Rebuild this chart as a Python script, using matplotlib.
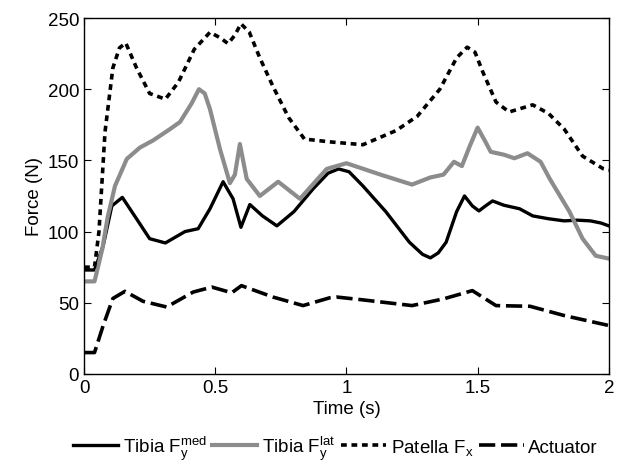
import matplotlib

matplotlib.use("Agg")
import matplotlib.pyplot as plt

plt.rcParams["font.family"] = ["Liberation Sans", "DejaVu Sans"]
plt.rcParams["mathtext.fontset"] = "custom"
plt.rcParams["mathtext.rm"] = "Liberation Sans"
plt.rcParams["mathtext.it"] = "Liberation Sans:italic"

# Tibia F_y^med (black solid)
med_t = [0, 0.04, 0.073, 0.106, 0.146, 0.2, 0.25, 0.31, 0.385, 0.435, 0.48, 0.53,
         0.568, 0.598, 0.632, 0.68, 0.735, 0.8, 0.873, 0.93, 0.97, 1.01, 1.063,
         1.15, 1.24, 1.29, 1.32, 1.35, 1.38, 1.42, 1.45, 1.48, 1.505, 1.53, 1.557,
         1.6, 1.66, 1.71, 1.77, 1.83, 1.88, 1.93, 1.97, 2.0]
med_f = [73, 73, 90, 118, 124, 109, 95, 92, 100, 102, 116, 135,
         123, 103, 119, 111, 104, 114, 130, 141, 144, 142, 132,
         114, 92.5, 84, 81.5, 85, 92.5, 114, 125, 118, 114.5, 118, 121.5,
         118.5, 116, 111, 109, 107.5, 108, 107.5, 106, 104]

# Tibia F_y^lat (grey solid)
lat_t = [0, 0.04, 0.07, 0.09, 0.118, 0.163, 0.213, 0.263, 0.328, 0.366, 0.41, 0.438,
         0.46, 0.48, 0.518, 0.556, 0.575, 0.594, 0.62, 0.67, 0.74, 0.823, 0.925,
         1.0, 1.13, 1.25, 1.32, 1.37, 1.41, 1.44, 1.47, 1.50, 1.53, 1.55, 1.60,
         1.64, 1.69, 1.74, 1.775, 1.85, 1.90, 1.95, 2.0]
lat_f = [65, 65, 88, 110, 132, 151, 159, 164, 172, 177, 190, 200,
         197, 186, 158, 134, 140, 161.5, 137, 125, 135, 123, 144,
         148, 140, 133, 138, 140, 149, 146, 160, 173, 163, 156, 154,
         151.5, 155, 149, 137, 114, 95, 83, 81]

# Patella F_x (black dotted)
pat_t = [0, 0.04, 0.057, 0.08, 0.11, 0.135, 0.159, 0.2, 0.25, 0.31, 0.36, 0.42,
         0.48, 0.52, 0.549, 0.575, 0.598, 0.63, 0.67, 0.72, 0.78, 0.84, 0.937,
         1.063, 1.19, 1.27, 1.356, 1.42, 1.46, 1.49, 1.52, 1.57, 1.62, 1.71,
         1.77, 1.83, 1.90, 1.98, 2.0]
pat_f = [75, 75, 100, 170, 215, 229, 232.5, 215, 197, 193, 205, 228,
         240, 236, 232, 238, 246, 240, 222, 202, 180, 165, 163,
         161, 171, 181, 200, 222, 229.5, 226, 212, 191, 184, 189,
         183, 172, 153, 144, 143]

# Actuator (black dashed)
act_t = [0, 0.04, 0.073, 0.11, 0.156, 0.225, 0.315, 0.416, 0.487, 0.563, 0.60,
         0.72, 0.835, 0.937, 0.963, 1.063, 1.25, 1.37, 1.48, 1.57, 1.70, 1.83, 2.0]
act_f = [15, 15, 34, 53, 58, 51, 47, 57.5, 61, 57, 62,
         54, 48, 53.5, 54, 52, 48, 52.7, 58.5, 48, 47.5, 41, 34]

fig = plt.figure(figsize=(6.27, 4.64), dpi=100)
ax = fig.add_axes([0.134, 0.192, 0.837, 0.767])

ax.plot(med_t, med_f, color="black", lw=2.4, solid_joinstyle="round",
        label=r"Tibia F$_{\mathrm{y}}^{\mathrm{med}}$")
ax.plot(lat_t, lat_f, color="#8c8c8c", lw=3.0, solid_joinstyle="round",
        label=r"Tibia F$_{\mathrm{y}}^{\mathrm{lat}}$")
ax.plot(pat_t, pat_f, color="black", lw=2.6, dashes=(1.6, 1.3),
        label=r"Patella F$_{\mathrm{x}}$")
ax.plot(act_t, act_f, color="black", lw=2.6, dashes=(4.5, 1.6),
        label="Actuator")

ax.set_xlim(0, 2)
ax.set_ylim(0, 250)
ax.set_xticks([0, 0.5, 1, 1.5, 2], ["0", "0.5", "1", "1.5", "2"])
ax.set_yticks([0, 50, 100, 150, 200, 250])
ax.tick_params(direction="in", labelsize=13.5, length=5, top=True, right=True,
               labeltop=False, labelright=False)
for s in ax.spines.values():
    s.set_linewidth(1.0)
ax.set_xlabel("Time (s)", fontsize=13.5, labelpad=3)
ax.set_ylabel("Force (N)", fontsize=13.5, labelpad=3)

fig.legend(loc="center", bbox_to_anchor=(0.535, 0.033), ncol=4, frameon=False,
           fontsize=13.5, handlelength=2.4, handletextpad=0.25, columnspacing=0.3)

fig.savefig("out.png", dpi=100)
